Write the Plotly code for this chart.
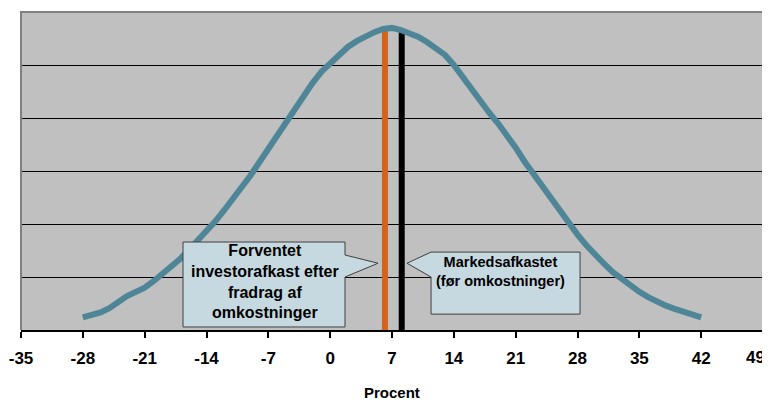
import plotly.graph_objects as go

# Data
returns_pct = list(range(-28, 43))
density = [
    0.24, 0.28, 0.33, 0.41, 0.54, 0.64, 0.72, 0.80, 0.92, 1.06,
    1.19, 1.34, 1.51, 1.68, 1.87, 2.05, 2.26, 2.48, 2.68, 2.92,
    3.17, 3.42, 3.67, 3.93, 4.18, 4.43, 4.66, 4.87, 5.04, 5.21,
    5.34, 5.45, 5.55, 5.62, 5.68, 5.70, 5.66, 5.60, 5.53, 5.43,
    5.32, 5.19, 5.00, 4.77, 4.54, 4.32, 4.10, 3.90, 3.68, 3.44,
    3.18, 2.95, 2.72, 2.47, 2.26, 2.03, 1.80, 1.60, 1.41, 1.25,
    1.09, 0.96, 0.83, 0.72, 0.62, 0.53, 0.46, 0.40, 0.34, 0.28, 0.24,
]
investor_return = 6.2
investor_height = 5.68
market_return = 8.1
market_height = 5.66
x_ticks = list(range(-35, 50, 7))
label_investor = "Forventet<br>investorafkast efter<br>fradrag af<br>omkostninger"
label_market = "Markedsafkastet<br>(før omkostninger)"
x_title = "Procent"

FONT = "Liberation Sans, Arial, sans-serif"

fig = go.Figure()
fig.add_trace(go.Scatter(x=[investor_return, investor_return], y=[0, investor_height],
                         mode="lines", line=dict(color="#D4621A", width=6),
                         hoverinfo="skip", showlegend=False))
fig.add_trace(go.Scatter(x=[market_return, market_return], y=[0, market_height],
                         mode="lines", line=dict(color="#000000", width=6),
                         hoverinfo="skip", showlegend=False))
fig.add_trace(go.Scatter(x=returns_pct, y=density, mode="lines",
                         line=dict(color="#4E8597", width=6),
                         showlegend=False))

box_fill = "#C6D9E0"
box_line = dict(color="#404040", width=1)
fig.add_shape(type="path", xref="x", yref="y", layer="above",
              path="M -16.66,1.66 L 1.68,1.66 L 1.68,1.415 L 5.42,1.26 L 1.68,1.0 "
                   "L 1.68,0.057 L -16.66,0.057 Z",
              fillcolor=box_fill, line=box_line)
fig.add_shape(type="path", xref="x", yref="y", layer="above",
              path="M 11.42,1.47 L 28.29,1.47 L 28.29,0.30 L 11.42,0.30 L 11.42,1.0 "
                   "L 8.70,1.26 Z",
              fillcolor=box_fill, line=box_line)
# plot-area border (left, top, right)
fig.add_shape(type="path", xref="paper", yref="paper", layer="above",
              path="M 0,0 L 0,1 L 1,1 L 1,0",
              line=dict(color="#808080", width=2))

fig.add_annotation(x=-7.4, y=0.906, xref="x", yref="y", text="<b>" + label_investor + "</b>",
                   showarrow=False, font=dict(family=FONT, size=16, color="#000000"),
                   align="center", xanchor="center", yanchor="middle")
fig.add_annotation(x=19.3, y=1.113, xref="x", yref="y", text="<b>" + label_market + "</b>",
                   showarrow=False, font=dict(family=FONT, size=14.5, color="#000000"),
                   align="center", xanchor="center", yanchor="middle")
fig.add_annotation(x=0.5, y=-0.198, xref="paper", yref="paper", text="<b>" + x_title + "</b>",
                   showarrow=False, font=dict(family=FONT, size=15, color="#000000"),
                   xanchor="center", yanchor="middle")

# last tick label sits at the window edge: drawn as a right-anchored annotation
tick_text = [str(t) for t in x_ticks[:-1]] + [""]
fig.add_annotation(x=1.004, y=-0.088, xref="paper", yref="paper",
                   text="<b>" + str(x_ticks[-1]) + "</b>", showarrow=False,
                   font=dict(family=FONT, size=17, color="#000000"),
                   xanchor="right", yanchor="middle", borderpad=0)

# the page body adds an 8px offset; plot area placed to match the reference
fig.update_layout(
    width=770, height=392,
    margin=dict(l=13, r=15, t=4, b=70, autoexpand=False),
    paper_bgcolor="white", plot_bgcolor="#C0C0C0",
    font=dict(family=FONT, color="#000000"),
    xaxis=dict(range=[-35, 49], tickvals=x_ticks, ticktext=tick_text,
               ticks="outside", ticklen=6, tickwidth=2, tickcolor="#000000",
               showline=True, linecolor="#000000", linewidth=2,
               showgrid=False, zeroline=False, automargin=False,
               ticklabeloverflow="allow", ticklabelstandoff=6,
               tickfont=dict(family=FONT, size=17, weight="bold", color="#000000")),
    yaxis=dict(range=[0, 6], dtick=1, showgrid=True, gridcolor="#000000", gridwidth=1,
               showticklabels=False, ticks="", zeroline=False, showline=False,
               automargin=False),
)

fig.write_html("out.html")
